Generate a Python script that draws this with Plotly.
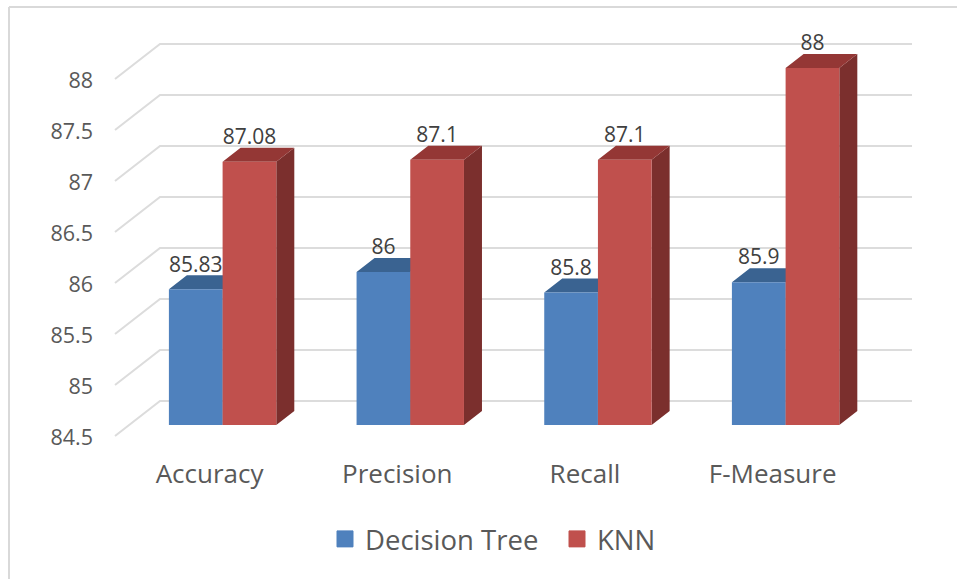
import plotly.graph_objects as go

categories = ["Accuracy", "Precision", "Recall", "F-Measure"]
decision_tree = [85.83, 86, 85.8, 85.9]
knn = [87.08, 87.1, 87.1, 88]
tick_values = [84.5, 85, 85.5, 86, 86.5, 87, 87.5, 88]
tick_labels = ["84.5", "85", "85.5", "86", "86.5", "87", "87.5", "88"]

W, H = 957, 579
FONT = "Open Sans"
BLUE, BLUE_TOP, BLUE_SIDE = "#4F81BD", "#3A6391", "#345A85"
RED, RED_TOP, RED_SIDE = "#C0504D", "#943735", "#7B2F2D"
TEXT, GRID, FRAME = "#595959", "#DCDCDC", "#D9D9D9"

# pixel layout of the pseudo-3D projection
L, R, T, B = 98, 957, 0, 450
PX_X, PX_Y = 187.67, 102.0
X0_PX, Y0_PX = 222.6, 425.0
x_range = [(L - X0_PX) / PX_X, (R - X0_PX) / PX_X]
y_range = [84.5 - (B - Y0_PX) / PX_Y, 84.5 + (Y0_PX - T) / PX_Y]
w = 53.7 / PX_X
dx, dy = 18 / PX_X, 14 / PX_Y
positions = list(range(len(categories)))
base = tick_values[0]


def faces(values, offset):
    top_x, top_y, side_x, side_y = [], [], [], []
    for i, v in zip(positions, values):
        a, b = i + offset, i + offset + w
        top_x += [a, a + dx, b + dx, b, a, None]
        top_y += [v, v + dy, v + dy, v, v, None]
        side_x += [b, b + dx, b + dx, b, b, None]
        side_y += [base, base + dy, v + dy, v, base, None]
    return top_x, top_y, side_x, side_y


fig = go.Figure()

# wall and floor gridlines
gx, gy = [], []
back_l, back_r, front_l = (160 - X0_PX) / PX_X, (912 - X0_PX) / PX_X, (115 - X0_PX) / PX_X
for v in tick_values:
    gx += [front_l, back_l, back_r, None]
    gy += [v - 11 / PX_Y, v + 24 / PX_Y, v + 24 / PX_Y, None]
fig.add_trace(go.Scatter(x=gx, y=gy, mode="lines", line=dict(color=GRID, width=2),
                         showlegend=False, hoverinfo="skip", zorder=0))


def add_series(name, values, offset, color, top, side, z):
    tx, ty, sx, sy = faces(values, offset)
    fig.add_trace(go.Scatter(x=sx, y=sy, mode="lines", fill="toself", fillcolor=side,
                             line=dict(width=0, color=side), showlegend=False,
                             hoverinfo="skip", zorder=z))
    fig.add_trace(go.Scatter(x=tx, y=ty, mode="lines", fill="toself", fillcolor=top,
                             line=dict(width=0, color=top), showlegend=False,
                             hoverinfo="skip", zorder=z))
    fig.add_trace(go.Bar(x=positions, y=[v - base for v in values], base=base, width=w, offset=offset,
                         marker=dict(color=color, line=dict(width=0)), name=name,
                         showlegend=False, zorder=z + 1))


add_series("Decision Tree", decision_tree, -w, BLUE, BLUE_TOP, BLUE_SIDE, 1)
add_series("KNN", knn, 0, RED, RED_TOP, RED_SIDE, 3)

# data labels
for values, offset in ((decision_tree, -w / 2), (knn, w / 2)):
    fig.add_trace(go.Scatter(x=[i + offset for i in positions],
                             y=[v + 23 / PX_Y for v in values],
                             text=[str(v) for v in values], mode="text",
                             textposition="middle center",
                             textfont=dict(family=FONT, size=21, color="#404040"),
                             showlegend=False, hoverinfo="skip", zorder=6))

# legend entries
for name, color in (("Decision Tree", BLUE), ("KNN", RED)):
    fig.add_trace(go.Scatter(x=[None], y=[None], mode="markers", name=name,
                             marker=dict(symbol="square", size=16, color=color,
                                         line=dict(color=color, width=1))))

fig.update_layout(
    width=W, height=H, margin=dict(l=L, r=W - R, t=T, b=H - B, pad=0),
    autosize=False, paper_bgcolor="white", plot_bgcolor="white", barmode="overlay",
    font=dict(family=FONT, color=TEXT),
    xaxis=dict(range=x_range, showgrid=False, zeroline=False, showline=False,
               tickmode="array", tickvals=[i - 13 / PX_X for i in positions], ticktext=categories,
               tickfont=dict(size=26, family=FONT, color=TEXT), ticks="", ticklabelstandoff=6),
    yaxis=dict(range=y_range, showgrid=False, zeroline=False, showline=False,
               tickmode="array", tickvals=[v - 12 / PX_Y for v in tick_values], ticktext=tick_labels,
               tickfont=dict(size=21.5, family=FONT, color=TEXT), ticks="", ticklabelstandoff=4),
    legend=dict(orientation="h", x=325 / W, xref="container", xanchor="left",
                y=1 - 539 / H, yref="container", yanchor="middle",
                font=dict(size=27.5, family=FONT, color=TEXT), itemsizing="trace",
                itemwidth=30, entrywidth=187, entrywidthmode="pixels", bgcolor="rgba(0,0,0,0)"),
    shapes=[
        dict(type="line", xref="paper", yref="paper",
             x0=(9 - L) / (R - L), x1=(9 - L) / (R - L), y0=(B - H) / (B - T), y1=(B - 7) / (B - T),
             line=dict(color=FRAME, width=2)),
        dict(type="line", xref="paper", yref="paper",
             x0=(9 - L) / (R - L), x1=1, y0=(B - 7) / (B - T), y1=(B - 7) / (B - T),
             line=dict(color=FRAME, width=2)),
    ],
)
fig.write_html("out.html", config={"displayModeBar": False},
               post_script="document.body.style.margin='0';document.documentElement.style.overflow='hidden';")
